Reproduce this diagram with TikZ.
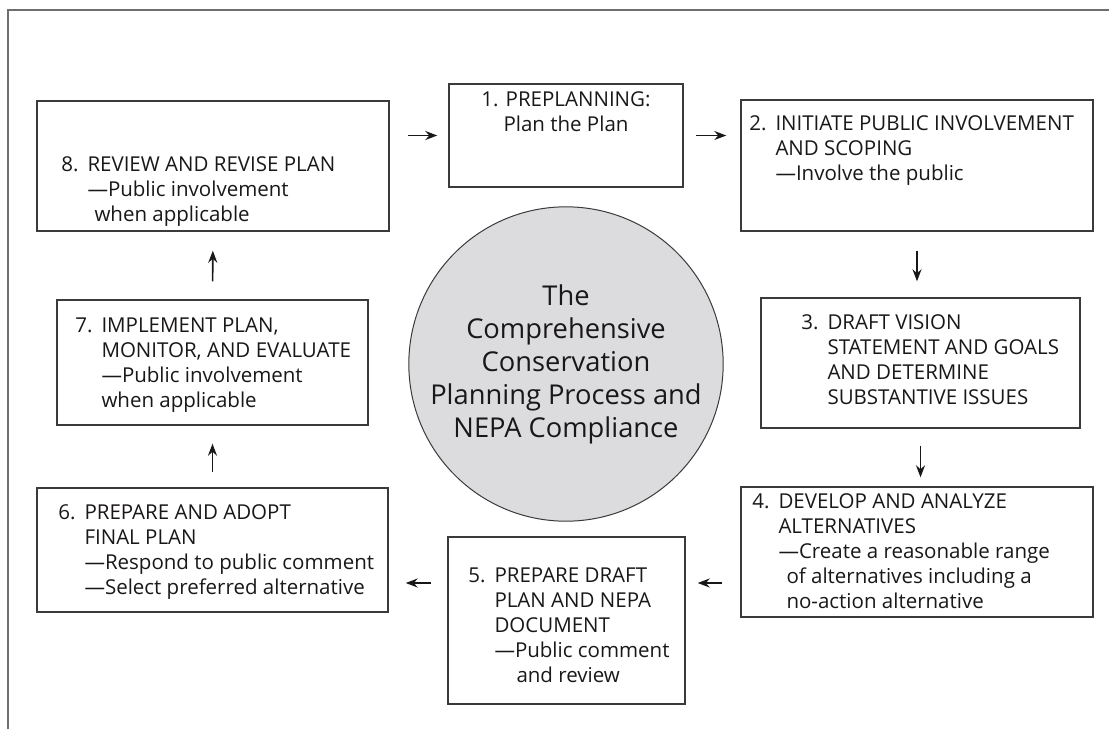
\documentclass[tikz,border=0pt]{standalone}
\usepackage{fontspec}
\setmainfont{Open Sans}
\usetikzlibrary{arrows.meta,positioning}

\definecolor{inkgray}{HTML}{1A1718}
\definecolor{linegray}{HTML}{3A3A3A}
\definecolor{framegray}{HTML}{6E6E6E}
\definecolor{discgray}{HTML}{DCDCDE}

\newcommand{\stepno}[1]{\llap{#1\hspace{9pt}}}

\begin{document}
\begin{tikzpicture}[x=1pt,y=-1pt]
  %----- styles
  \tikzset{
    box/.style   ={draw=linegray,line width=1.4pt,inner sep=0pt},
    txt/.style   ={anchor=base west,inner sep=0pt,text=inkgray,font=\fontsize{20.5}{25}\selectfont},
    disc/.style  ={circle,draw=linegray,line width=1pt,fill=discgray,inner sep=0pt,minimum size=304pt,
                   align=center,text=inkgray,font=\fontsize{27.3}{33}\selectfont},
    arrow/.style ={-{Stealth[length=12pt,width=9pt]},line width=1.6pt,draw=inkgray}
  }

  \useasboundingbox (0,0) rectangle (1109,729);

  % outer frame (only top and left edges show)
  \draw[framegray,line width=1.6pt] (8,729) -- (8,10) -- (1109,10);

  %----- nodes
  % top row: 8, 1, 2
  \node[box,minimum width=352pt,minimum height=130pt] (review)  at (213,166)   {};
  \node[box,minimum width=234pt,minimum height=103pt] (preplan) at (566,135.5) {};
  \node[box,minimum width=352pt,minimum height=131pt] (scoping) at (917,165.5) {};

  % middle row: 7, circle, 3
  \node[box,minimum width=311pt,minimum height=125pt] (implement) at (212.5,362.5) {};
  \node[disc] (core) at (566,364) {The\\Comprehensive\\Conservation\\Planning Process and\\NEPA Compliance};
  \node[box,minimum width=319pt,minimum height=130pt] (vision) at (920.5,363) {};

  % bottom row: 6, 5, 4
  \node[box,minimum width=351pt,minimum height=124pt] (final) at (212.5,550)   {};
  \node[box,minimum width=237pt,minimum height=167pt] (draft) at (566.5,620.5) {};
  \node[box,minimum width=352pt,minimum height=130pt] (alts)  at (917,552)     {};

  %----- texts inside the boxes
  \node[txt,anchor=base] (preplantxt) at ([yshift=-23pt]preplan.north)
    {\begin{tabular}[t]{@{}c@{}}1. PREPLANNING:\\Plan the Plan\end{tabular}};
  \node[txt] (scopingtxt) at ([xshift=35pt,yshift=-31pt]scoping.north west)
    {\begin{tabular}[t]{@{}l@{}}\stepno{2.}INITIATE PUBLIC INVOLVEMENT\\AND SCOPING\\—Involve the public\end{tabular}};
  \node[txt] (visiontxt) at ([xshift=67pt,yshift=-32pt]vision.north west)
    {\begin{tabular}[t]{@{}l@{}}\stepno{3.}DRAFT VISION\\STATEMENT AND GOALS\\AND DETERMINE\\SUBSTANTIVE ISSUES\end{tabular}};
  \node[txt] (altstxt) at ([xshift=38pt,yshift=-22pt]alts.north west)
    {\begin{tabular}[t]{@{}l@{}}\stepno{4.}DEVELOP AND ANALYZE\\ALTERNATIVES\\—Create a reasonable range\\
     \hspace*{8pt}of alternatives including a\\\hspace*{8pt}no-action alternative\end{tabular}};
  \node[txt] (drafttxt) at ([xshift=47pt,yshift=-46pt]draft.north west)
    {\begin{tabular}[t]{@{}l@{}}\stepno{5.}PREPARE DRAFT\\PLAN AND NEPA\\DOCUMENT\\—Public comment\\
     \hspace*{22pt}and review\end{tabular}};
  \node[txt] (finaltxt) at ([xshift=48pt,yshift=-32pt]final.north west)
    {\begin{tabular}[t]{@{}l@{}}\stepno{6.}PREPARE AND ADOPT\\FINAL PLAN\\—Respond to public comment\\—Select preferred alternative\end{tabular}};
  \node[txt] (implementtxt) at ([xshift=45pt,yshift=-33pt]implement.north west)
    {\begin{tabular}[t]{@{}l@{}}\stepno{7.}IMPLEMENT PLAN,\\MONITOR, AND EVALUATE\\—Public involvement\\when applicable\end{tabular}};
  \node[txt] (reviewtxt) at ([xshift=51pt,yshift=-71pt]review.north west)
    {\begin{tabular}[t]{@{}l@{}}\stepno{8.}REVIEW AND REVISE PLAN\\—Public involvement\\\hspace*{7pt}when applicable\end{tabular}};

  %----- connections
  \coordinate (lowrow) at (0,583);
  \draw[arrow,shorten <=18pt,shorten >=11pt] (review.east |- preplan.west) -- (preplan.west);
  \draw[arrow,shorten <=12pt,shorten >=14pt] (preplan.east) -- (scoping.west |- preplan.east);
  \draw[arrow,shorten <=19pt,shorten >=16pt] (scoping.south) -- (scoping.south |- vision.north);
  \draw[arrow,shorten <=17pt,shorten >=9pt]  (vision.south) -- (vision.south |- alts.north);
  \draw[arrow,shorten <=18pt,shorten >=12pt] (alts.west |- lowrow) -- (draft.east |- lowrow);
  \draw[arrow,shorten <=16pt,shorten >=17pt] (draft.west |- lowrow) -- (final.east |- lowrow);
  \draw[arrow,shorten <=15pt,shorten >=18pt] (final.north) -- (implement.south);
  \draw[arrow,shorten <=18pt,shorten >=19pt] (implement.north) -- (review.south);
\end{tikzpicture}
\end{document}
